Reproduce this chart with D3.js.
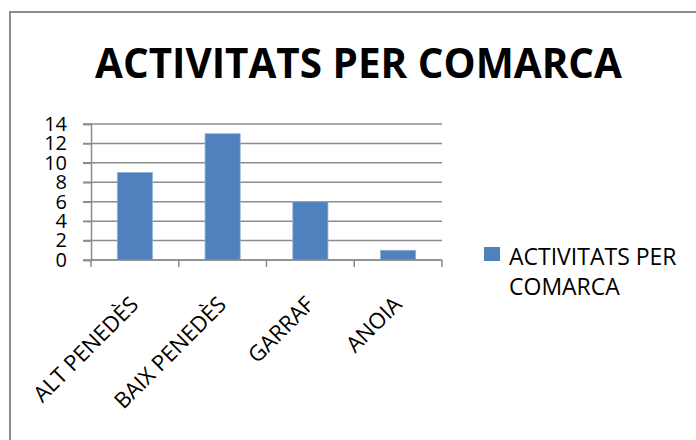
<!DOCTYPE html>
<html>
<head>
<meta charset="utf-8">
<script src="https://cdn.jsdelivr.net/npm/d3@7"></script>
<style>
    body { margin: 0; background: #fff; }
    text { font-family: "Open Sans", "DejaVu Sans", sans-serif; fill: #000; }
</style>
</head>
<body>
<svg id="chart" width="696" height="440"></svg>
<script>
// chart data
var title = "ACTIVITATS PER COMARCA";
var comarques = ["ALT PENEDÈS", "BAIX PENEDÈS", "GARRAF", "ANOIA"];
var activitats = [9, 13, 6, 1];
var yTicks = [0, 2, 4, 6, 8, 10, 12, 14];
var legendLines = ["ACTIVITATS PER", "COMARCA"];

var margin = { top: 124, right: 254, bottom: 180, left: 91 },
    width = 696 - margin.left - margin.right,
    height = 440 - margin.top - margin.bottom;

var svg = d3.select("#chart");

// outer frame, runs off the right and bottom edges
svg.append("rect")
    .attr("x", 10)
    .attr("y", 12)
    .attr("width", 700)
    .attr("height", 440)
    .attr("fill", "none")
    .attr("stroke", "#8c8c8c")
    .attr("stroke-width", 2);

// title
svg.append("text")
    .attr("x", 95)
    .attr("y", 78)
    .attr("textLength", 527)
    .attr("lengthAdjust", "spacingAndGlyphs")
    .style("font-size", "42px")
    .style("font-weight", "bold")
    .text(title);

var g = svg.append("g")
    .attr("transform", "translate(" + margin.left + "," + margin.top + ")");

var x = d3.scaleBand()
    .domain(comarques)
    .range([0, width])
    .paddingInner(0.6)
    .paddingOuter(0.3);

var y = d3.scaleLinear()
    .domain([0, 14])
    .range([height, 0]);

// gridlines
g.append("g")
    .selectAll("line")
    .data(yTicks)
    .join("line")
    .attr("x1", -8)
    .attr("x2", width)
    .attr("y1", function (d) { return y(d); })
    .attr("y2", function (d) { return y(d); })
    .attr("stroke", "#8c8c8c")
    .attr("stroke-width", 1.5);

// y axis
var yAxis = g.append("g")
    .call(d3.axisLeft(y).tickValues(yTicks).tickSize(8).tickPadding(16));
yAxis.select(".domain").attr("stroke", "#8c8c8c").attr("stroke-width", 1.5);
yAxis.selectAll(".tick line").attr("stroke", "#8c8c8c").attr("stroke-width", 1.5);
yAxis.selectAll(".tick text")
    .style("font-family", "'Open Sans', sans-serif")
    .style("font-size", "20px")
    .attr("fill", "#000");

// bars
g.selectAll("rect.bar")
    .data(activitats)
    .join("rect")
    .attr("class", "bar")
    .attr("x", function (d, i) { return x(comarques[i]); })
    .attr("y", function (d) { return y(d); })
    .attr("width", x.bandwidth())
    .attr("height", function (d) { return height - y(d); })
    .attr("fill", "#4f81bd")
    .attr("stroke", "#8fb0d8")
    .attr("stroke-width", 0.8);

// x axis: ticks sit on the category boundaries
var step = x.step();
var bounds = d3.range(comarques.length + 1).map(function (i) { return x(comarques[0]) - step * 0.3 + i * step; });
g.append("line")
    .attr("x1", 0)
    .attr("x2", width)
    .attr("y1", height)
    .attr("y2", height)
    .attr("stroke", "#8c8c8c")
    .attr("stroke-width", 1.5);
g.append("g")
    .selectAll("line")
    .data(bounds)
    .join("line")
    .attr("x1", function (d) { return d; })
    .attr("x2", function (d) { return d; })
    .attr("y1", height)
    .attr("y2", height + 7)
    .attr("stroke", "#8c8c8c")
    .attr("stroke-width", 1.5);

// rotated category labels
g.append("g")
    .selectAll("text")
    .data(comarques)
    .join("text")
    .attr("transform", function (d) {
        return "translate(" + (x(d) + x.bandwidth() / 2 + 5) + "," + (height + 46) + ") rotate(-45)";
    })
    .attr("text-anchor", "end")
    .style("font-size", "22px")
    .text(function (d) { return d; });

// legend
svg.append("rect")
    .attr("x", 484)
    .attr("y", 247)
    .attr("width", 16)
    .attr("height", 14)
    .attr("fill", "#4f81bd");

svg.append("g")
    .selectAll("text")
    .data(legendLines)
    .join("text")
    .attr("x", 509)
    .attr("y", function (d, i) { return 265 + i * 30; })
    .style("font-size", "23px")
    .text(function (d) { return d; });
</script>
</body>
</html>
